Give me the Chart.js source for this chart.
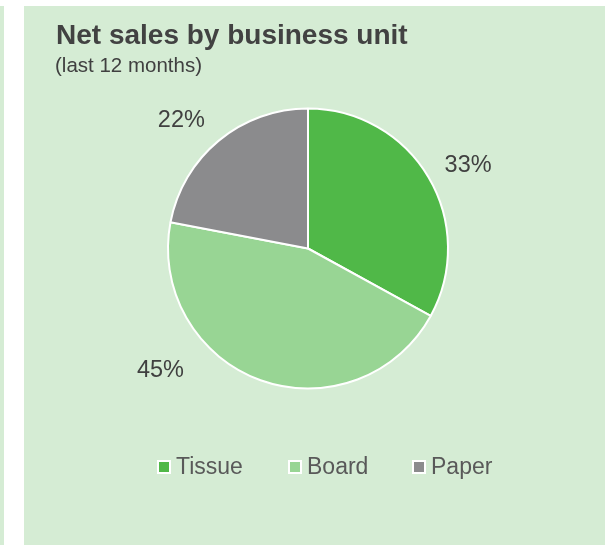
<!DOCTYPE html>
<html>
<head>
<meta charset="utf-8">
<script src="https://cdn.jsdelivr.net/npm/chart.js@4/dist/chart.umd.min.js"></script>
<style>
  html, body { margin: 0; padding: 0; background: #ffffff; overflow: hidden; }
  #c { display: block; }
</style>
</head>
<body>
<canvas id="c" width="605" height="545"></canvas>
<script>
// ---- data ----
const categories = ['Tissue', 'Board', 'Paper'];
const shares = [33, 45, 22];
const sliceColors = ['#50b848', '#98d594', '#8b8b8d'];
const titleText = 'Net sales by business unit';
const subtitleText = '(last 12 months)';

// ---- label placement (style) ----
const labelAngleAdjust = [2.8, 30.8, -4.8]; // degrees
const labelRadius = [181, 191, 181];
const legendX = [157, 288, 412];

const FONT = '"Liberation Sans", Arial, sans-serif';

const decor = {
  id: 'decor',
  beforeDraw(chart) {
    const ctx = chart.ctx;
    ctx.save();
    ctx.fillStyle = '#ffffff';
    ctx.fillRect(0, 0, chart.width, chart.height);
    ctx.fillStyle = '#d5ecd4';
    ctx.fillRect(0, 6, 4, chart.height - 6);
    ctx.fillRect(24, 6, chart.width - 24, chart.height - 6);
    ctx.restore();
  },
  afterDraw(chart) {
    const ctx = chart.ctx;
    ctx.save();
    // title
    ctx.fillStyle = '#424242';
    ctx.textAlign = 'left';
    ctx.textBaseline = 'alphabetic';
    ctx.font = 'bold 28px ' + FONT;
    ctx.fillText(titleText, 56, 44);
    ctx.fillStyle = '#404040';
    ctx.font = '20.5px ' + FONT;
    ctx.fillText(subtitleText, 55, 72);

    // percentage labels
    const meta = chart.getDatasetMeta(0);
    const total = shares.reduce((a, b) => a + b, 0);
    ctx.font = '23.5px ' + FONT;
    ctx.textAlign = 'center';
    ctx.textBaseline = 'middle';
    ctx.fillStyle = '#404040';
    meta.data.forEach((arc, i) => {
      const p = arc.getProps(['x', 'y', 'startAngle', 'endAngle'], true);
      const mid = (p.startAngle + p.endAngle) / 2 + labelAngleAdjust[i] * Math.PI / 180;
      const r = labelRadius[i];
      const x = p.x + Math.cos(mid) * r;
      const y = p.y + Math.sin(mid) * r;
      ctx.fillText(Math.round(shares[i] / total * 100) + '%', x, y + 1);
    });

    // legend
    const ly = 467;
    ctx.textAlign = 'left';
    ctx.textBaseline = 'middle';
    ctx.font = '23px ' + FONT;
    categories.forEach((name, i) => {
      const bx = legendX[i];
      ctx.fillStyle = '#ffffff';
      ctx.fillRect(bx, ly - 7, 14, 14);
      ctx.fillStyle = sliceColors[i];
      ctx.fillRect(bx + 2, ly - 5, 10, 10);
      ctx.fillStyle = '#595959';
      ctx.fillText(name, bx + 19, ly + 1);
    });
    ctx.restore();
  }
};

new Chart(document.getElementById('c'), {
  type: 'pie',
  data: {
    labels: categories,
    datasets: [{
      data: shares,
      backgroundColor: sliceColors,
      borderColor: '#ffffff',
      borderWidth: 2
    }]
  },
  options: {
    responsive: false,
    devicePixelRatio: 1,
    animation: false,
    layout: { padding: { left: 167, right: 156, top: 107.5, bottom: 155.5 } },
    plugins: {
      legend: { display: false },
      tooltip: { enabled: false },
      title: { display: false }
    }
  },
  plugins: [decor]
});
</script>
</body>
</html>
